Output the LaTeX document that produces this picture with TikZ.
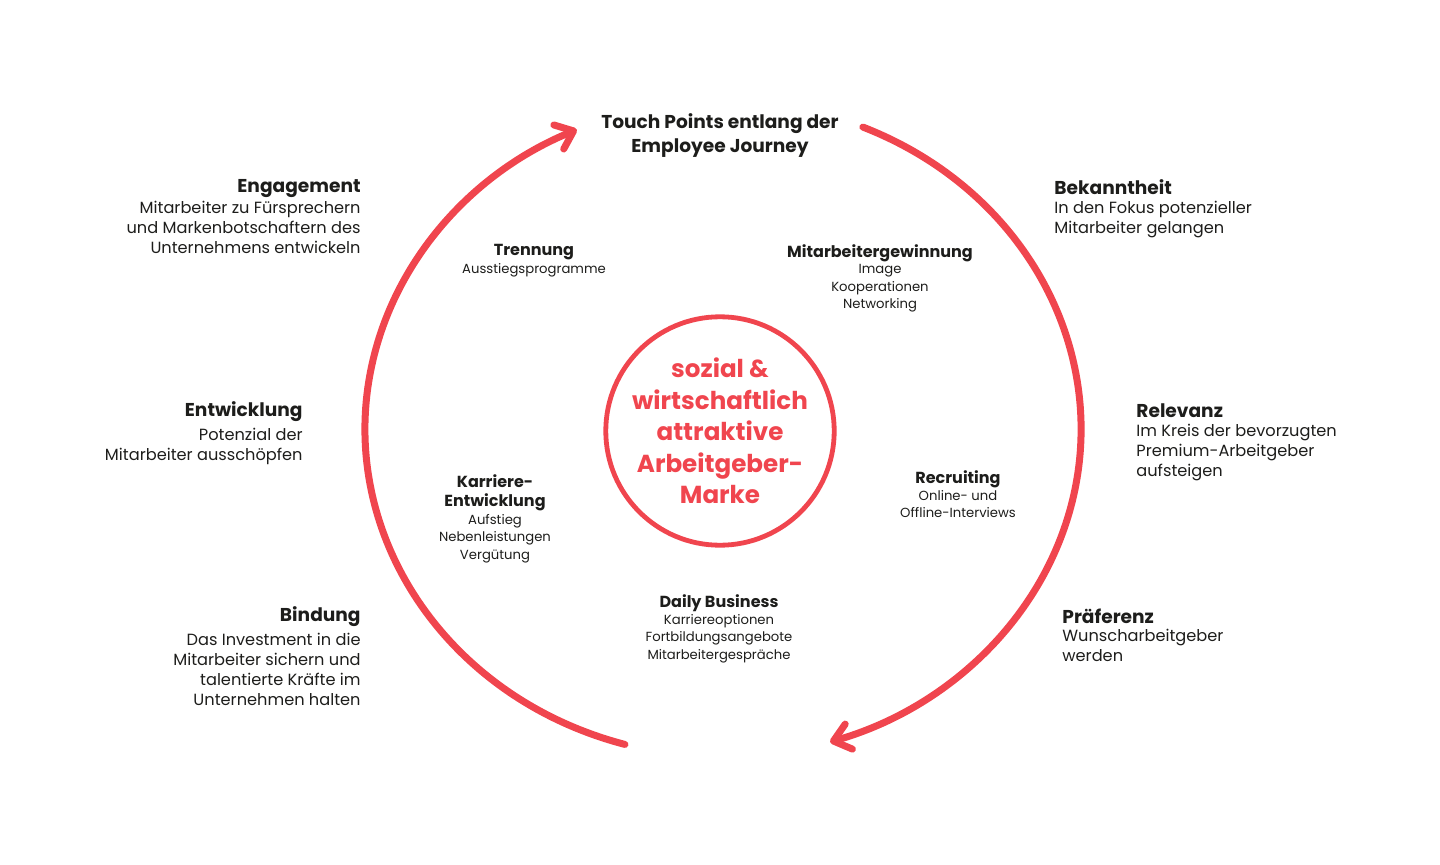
\documentclass[tikz,border=0pt]{standalone}
\usepackage{fontspec}
\setmainfont{Poppins}
\usepackage{tikz}
\usetikzlibrary{arrows.meta}
\definecolor{brand}{RGB}{240,69,78}
\definecolor{ink}{RGB}{29,29,27}
\tikzset{
	head/.style 2 args={font=\fontsize{9.3}{12}\selectfont\bfseries,text=ink,inner sep=0pt,anchor=#1,name=#2},
	body/.style 2 args={font=\fontsize{8.1}{10}\selectfont,text=ink,inner sep=0pt,anchor=#1,align=#2},
	ihead/.style={font=\fontsize{8}{9.5}\selectfont\bfseries,text=ink,inner sep=0pt,align=center},
	ibody/.style={font=\fontsize{6.6}{8.75}\selectfont,text=ink,inner sep=0pt,align=center,anchor=north},
	ring/.style={draw=brand,line width=3.5pt,line cap=round,-{Straight Barb[length=8pt,width=13pt,round]}},
	core/.style={circle,draw=brand,line width=2.4pt,minimum size=105.5pt,inner sep=0pt,align=center,text=brand,font=\fontsize{12.3}{15.75}\selectfont\bfseries}
}
\begin{document}
\begin{tikzpicture}[x=0.5pt,y=0.5pt]
	\useasboundingbox (0,0) rectangle (1440,864);
	\coordinate (mid) at (723,435);

	\draw [ring] ([shift={(67:179pt and 164pt)}]mid) arc[start angle=67,end angle=-72.6,x radius=179pt,y radius=164pt];
	\draw [ring] ([shift={(254.1:179pt and 164pt)}]mid) arc[start angle=254.1,end angle=114.1,x radius=179pt,y radius=164pt];

	\node [core] (marke) at (720,433) {sozial \&\\wirtschaftlich\\attraktive\\Arbeitgeber-\\Marke};
	\node [ihead,font=\fontsize{9.3}{12}\selectfont\bfseries] (touch) at (720,728) {Touch Points entlang der\\Employee Journey};

	\node [head={east}{eng}] at (361,675) {Engagement};
	\node [body={north east}{right}] (engtxt) at (361,663) {Mitarbeiter zu Fürsprechern\\und Markenbotschaftern des\\Unternehmens entwickeln};
	\node [head={east}{entw}] at (303,452) {Entwicklung};
	\node [body={north east}{right}] (entwtxt) at (303,436) {Potenzial der\\Mitarbeiter ausschöpfen};
	\node [head={east}{bind}] at (361,247) {Bindung};
	\node [body={north east}{right}] (bindtxt) at (361,231) {Das Investment in die\\Mitarbeiter sichern und\\talentierte Kräfte im\\Unternehmen halten};

	\node [head={west}{bek}] at (1054,677) {Bekanntheit};
	\node [body={north west}{left}] (bektxt) at (1054,663) {In den Fokus potenzieller\\Mitarbeiter gelangen};
	\node [head={west}{rel}] at (1136,453) {Relevanz};
	\node [body={north west}{left}] (reltxt) at (1136,440) {Im Kreis der bevorzugten\\Premium-Arbeitgeber\\aufsteigen};
	\node [head={west}{pref}] at (1062,248) {Präferenz};
	\node [body={north west}{left}] (preftxt) at (1062,235) {Wunscharbeitgeber\\werden};

	\node [ihead] (trenn) at (534,611.5) {Trennung};
	\node [ibody] (trenntxt) at (534,601) {Ausstiegsprogramme};
	\node [ihead] (gewinn) at (880,610.5) {Mitarbeitergewinnung};
	\node [ibody] (gewinntxt) at (880,600) {Image\\Kooperationen\\Networking};
	\node [ihead] (karr) at (495,371) {Karriere-\\Entwicklung};
	\node [ibody] (karrtxt) at (495,350) {Aufstieg\\Nebenleistungen\\Vergütung};
	\node [ihead] (recr) at (958,384.5) {Recruiting};
	\node [ibody] (recrtxt) at (958,374) {Online- und\\Offline-Interviews};
	\node [ihead] (daily) at (719,260.5) {Daily Business};
	\node [ibody] (dailytxt) at (719,250) {Karriereoptionen\\Fortbildungsangebote\\Mitarbeitergespräche};
\end{tikzpicture}
\end{document}
